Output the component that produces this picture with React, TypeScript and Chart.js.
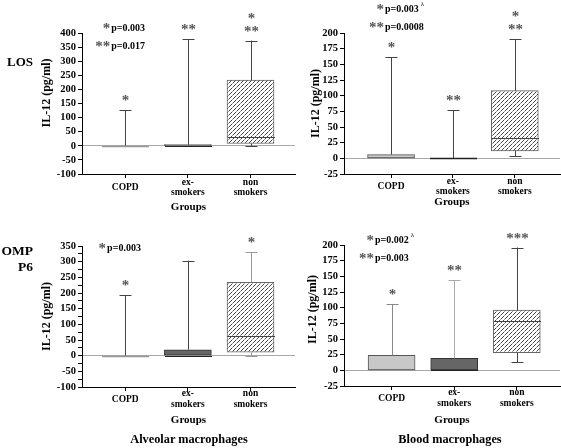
import React, { useEffect, useRef } from "react";
import { Chart, registerables } from "chart.js";

Chart.register(...registerables);

const SERIF = '"Liberation Serif", "Times New Roman", serif';

// ---------- shared categories ----------
const groupPositions = [1, 2, 3];
const groupLabels = [["COPD"], ["ex-", "smokers"], ["non", "smokers"]];

// ---------- Alveolar macrophages, LOS ----------
const alvLosMin = [0, 0, 0];
const alvLosQ1 = [0, 0, 8];
const alvLosMedian = [0, 0, 32];
const alvLosQ3 = [0, 4, 233];
const alvLosMax = [127, 378, 373];
const alvLosStars = [["*"], ["**"], ["**", "*"]];
const alvLosP = [["*", "p=0.003", ""], ["**", "p=0.017", ""]];

// ---------- Blood macrophages, LOS ----------
const bloodLosMin = [0, 0, 3];
const bloodLosQ1 = [0, 0, 12];
const bloodLosMedian = [0, 0, 33];
const bloodLosQ3 = [6, 0, 108];
const bloodLosMax = [161, 77, 190];
const bloodLosStars = [["*"], ["**"], ["**", "*"]];
const bloodLosP = [["*", "p=0.003", "λ"], ["**", "p=0.0008", ""]];

// ---------- Alveolar macrophages, OMP P6 ----------
const alvOmpMin = [0, 0, 0];
const alvOmpQ1 = [0, 0, 11];
const alvOmpMedian = [0, 0, 62];
const alvOmpQ3 = [0, 19, 234];
const alvOmpMax = [193, 303, 330];
const alvOmpStars = [["*"], [], ["*"]];
const alvOmpP = [["*", "p=0.003", ""]];

// ---------- Blood macrophages, OMP P6 ----------
const bloodOmpMin = [0, 0, 13];
const bloodOmpQ1 = [0, 0, 28];
const bloodOmpMedian = [0, 0, 79];
const bloodOmpQ3 = [24, 19, 96];
const bloodOmpMax = [106, 144, 196];
const bloodOmpStars = [["*"], ["**"], ["***"]];
const bloodOmpP = [["*", "p=0.002", "λ"], ["**", "p=0.003", ""]];

// ---------- axis ranges: [min, max, step, label step] ----------
const alvLosY = [-100, 400, 50, 50];
const bloodLosY = [-25, 200, 25, 25];
const alvOmpY = [-100, 350, 25, 50];
const bloodOmpY = [-25, 200, 25, 25];

type Cfg = {
  min: number[]; q1: number[]; median: number[]; q3: number[]; max: number[];
  stars: string[][]; pLines: string[][];
  yRange: number[];
  xMin: number; xMax: number;
  left: number; top: number; width: number; height: number;
  padTop: number; padRight: number; yWidth: number; xHeight: number;
  yTitle: string; yTitlePad: number; xTitlePad: number; xTickPad: number; xTickLH: number;
  pAnchorX: number; pAnchorY: number[];
  whiskerColors: string[];
};

const boxFill = ["#c8c8c8", "#666666"];
const boxBorder = ["#555555", "#333333", "#666666"];
const medianColors = ["#999999", "#222222", "#444444"];

const panels: Cfg[] = [
  {
    min: alvLosMin, q1: alvLosQ1, median: alvLosMedian, q3: alvLosQ3, max: alvLosMax,
    stars: alvLosStars, pLines: alvLosP, yRange: alvLosY,
    xMin: 0.31, xMax: 3.71,
    left: 0, top: 0, width: 300, height: 224,
    padTop: 33, padRight: 5, yWidth: 82, xHeight: 50,
    yTitle: "       IL-12 (pg/ml)", yTitlePad: 40, xTitlePad: 10.4, xTickPad: 5, xTickLH: 1.05,
    pAnchorX: 0.76, pAnchorY: [425, 361],
    whiskerColors: ["#444", "#444", "#444"],
  },
  {
    min: bloodLosMin, q1: bloodLosQ1, median: bloodLosMedian, q3: bloodLosQ3, max: bloodLosMax,
    stars: bloodLosStars, pLines: bloodLosP, yRange: bloodLosY,
    xMin: 0.24, xMax: 3.73,
    left: 300, top: 0, width: 261, height: 224,
    padTop: 33, padRight: 1, yWidth: 44, xHeight: 50,
    yTitle: "IL-12 (pg/ml)", yTitlePad: 8.8, xTitlePad: 15.6, xTickPad: 3.5, xTickLH: 1.1,
    pAnchorX: 0.887, pAnchorY: [241, 212],
    whiskerColors: ["#444", "#444", "#444"],
  },
  {
    min: alvOmpMin, q1: alvOmpQ1, median: alvOmpMedian, q3: alvOmpQ3, max: alvOmpMax,
    stars: alvOmpStars, pLines: alvOmpP, yRange: alvOmpY,
    xMin: 0.31, xMax: 3.71,
    left: 0, top: 224, width: 300, height: 224,
    padTop: 22, padRight: 5, yWidth: 82, xHeight: 61,
    yTitle: "IL-12 (pg/ml)", yTitlePad: 40, xTitlePad: 21.5, xTickPad: 3, xTickLH: 1.12,
    pAnchorX: 0.695, pAnchorY: [349],
    whiskerColors: ["#444", "#444", "#999"],
  },
  {
    min: bloodOmpMin, q1: bloodOmpQ1, median: bloodOmpMedian, q3: bloodOmpQ3, max: bloodOmpMax,
    stars: bloodOmpStars, pLines: bloodOmpP, yRange: bloodOmpY,
    xMin: 0.24, xMax: 3.69,
    left: 300, top: 224, width: 261, height: 224,
    padTop: 21, padRight: 1, yWidth: 44, xHeight: 62,
    yTitle: "    IL-12 (pg/ml)", yTitlePad: 5.3, xTitlePad: 21.5, xTickPad: 3, xTickLH: 1.15,
    pAnchorX: 0.718, pAnchorY: [211, 183],
    whiskerColors: ["#888", "#aaa", "#444"],
  },
];

function makeHatch(): CanvasPattern | string {
  const c = document.createElement("canvas");
  c.width = 4;
  c.height = 4;
  const g = c.getContext("2d");
  if (!g) return "#aaa";
  g.fillStyle = "#fff";
  g.fillRect(0, 0, 4, 4);
  g.fillStyle = "#444";
  g.fillRect(3, 0, 1, 1);
  g.fillRect(2, 1, 1, 1);
  g.fillRect(1, 2, 1, 1);
  g.fillStyle = "#999";
  g.fillRect(0, 3, 1, 1);
  const p = g.createPattern(c, "repeat");
  return p || "#aaa";
}

function drawAsterisks(ctx: CanvasRenderingContext2D, text: string, x: number, cy: number, align: CanvasTextAlign) {
  ctx.font = `bold 15px ${SERIF}`;
  ctx.textAlign = align;
  ctx.textBaseline = "alphabetic";
  ctx.fillStyle = "#555";
  ctx.fillText(text, x, cy + 7);
}

function makeBoxPlugin(cfg: Cfg) {
  return {
    id: "boxWhiskers",
    afterDatasetsDraw(chart: any) {
      const { ctx } = chart;
      const xs = chart.scales.x;
      const ys = chart.scales.y;
      const meta = chart.getDatasetMeta(0);
      ctx.save();
      groupPositions.forEach((gx, i) => {
        const px = Math.round(xs.getPixelForValue(gx)) + 0.5;
        const bar = meta.data[i];
        const bw = bar ? bar.width : 47;
        const capHalf = 6;
        ctx.strokeStyle = cfg.whiskerColors[i];
        ctx.lineWidth = 1;
        // upper whisker
        const yTop = ys.getPixelForValue(cfg.max[i]);
        const yQ3 = ys.getPixelForValue(cfg.q3[i]);
        ctx.beginPath();
        ctx.moveTo(px, yQ3);
        ctx.lineTo(px, yTop);
        ctx.moveTo(px - capHalf, Math.round(yTop) + 0.5);
        ctx.lineTo(px + capHalf, Math.round(yTop) + 0.5);
        ctx.stroke();
        // lower whisker
        if (cfg.min[i] < cfg.q1[i]) {
          const yBot = ys.getPixelForValue(cfg.min[i]);
          const yQ1 = ys.getPixelForValue(cfg.q1[i]);
          ctx.beginPath();
          ctx.moveTo(px, yQ1);
          ctx.lineTo(px, yBot);
          ctx.moveTo(px - capHalf, Math.round(yBot) + 0.5);
          ctx.lineTo(px + capHalf, Math.round(yBot) + 0.5);
          ctx.stroke();
        }
        // median / flat box
        const yMed = Math.round(ys.getPixelForValue(cfg.median[i])) + 0.5;
        ctx.strokeStyle = medianColors[i];
        ctx.lineWidth = cfg.q1[i] === cfg.q3[i] ? 1.5 : 1;
        ctx.beginPath();
        ctx.moveTo(px - bw / 2, yMed);
        ctx.lineTo(px + bw / 2, yMed);
        ctx.stroke();
        // significance stars above whisker
        cfg.stars[i].forEach((s, k) => {
          drawAsterisks(ctx, s, px, yTop - 12 - k * 13, "center");
        });
      });
      // p-value legend
      const ax = xs.getPixelForValue(cfg.pAnchorX);
      cfg.pLines.forEach((line, k) => {
        const cy = ys.getPixelForValue(cfg.pAnchorY[k]);
        drawAsterisks(ctx, line[0], ax, cy, "right");
        ctx.font = `bold 10px ${SERIF}`;
        ctx.textAlign = "left";
        ctx.fillStyle = "#000";
        ctx.fillText(line[1], ax + 1, cy + 5);
        if (line[2]) {
          const w = ctx.measureText(line[1]).width;
          ctx.font = `7px ${SERIF}`;
          ctx.fillText(line[2], ax + 3 + w, cy - 1);
        }
      });
      ctx.restore();
    },
  };
}

function Panel({ cfg }: { cfg: Cfg }) {
  const ref = useRef<HTMLCanvasElement>(null);
  useEffect(() => {
    const canvas = ref.current;
    if (!canvas) return;
    const hatch = makeHatch();
    const [yMin, yMax, yStep, yLabelStep] = cfg.yRange;
    const chart = new Chart(canvas, {
      type: "bar",
      data: {
        datasets: [
          {
            data: groupPositions.map((x, i) => ({ x, y: [cfg.q1[i], cfg.q3[i]] })) as any,
            backgroundColor: [boxFill[0], boxFill[1], hatch] as any,
            borderColor: boxBorder,
            borderWidth: 1,
            borderSkipped: false,
            barThickness: 47,
          },
        ],
      },
      options: {
        animation: false,
        responsive: false,
        maintainAspectRatio: false,
        layout: { padding: { left: 0, top: cfg.padTop, right: cfg.padRight, bottom: 0 } },
        plugins: { legend: { display: false }, tooltip: { enabled: false }, title: { display: false } },
        scales: {
          x: {
            type: "linear",
            min: cfg.xMin,
            max: cfg.xMax,
            offset: false,
            afterBuildTicks: (s: any) => {
              s.ticks = groupPositions.map((v) => ({ value: v }));
            },
            afterFit: (s: any) => {
              s.height = cfg.xHeight;
            },
            ticks: {
              autoSkip: false,
              maxRotation: 0,
              minRotation: 0,
              crossAlign: "center",
              padding: cfg.xTickPad,
              color: "#000",
              font: { family: SERIF, size: 9.5, weight: "bold", lineHeight: cfg.xTickLH },
              callback: (v: any) => {
                const idx = groupPositions.indexOf(Math.round(Number(v)));
                return idx >= 0 ? groupLabels[idx] : "";
              },
            },
            grid: { display: true, drawOnChartArea: false, offset: false, color: "#000", tickColor: "#000", tickLength: 4 },
            border: { display: true, color: "#000", width: 1 },
            title: {
              display: true,
              text: "Groups",
              color: "#000",
              font: { family: SERIF, size: 11, weight: "bold", lineHeight: 1.2 },
              padding: { top: 0, bottom: cfg.xTitlePad },
            },
          },
          y: {
            type: "linear",
            min: yMin,
            max: yMax,
            afterFit: (s: any) => {
              s.width = cfg.yWidth;
            },
            ticks: {
              stepSize: yStep,
              autoSkip: false,
              padding: 2,
              color: "#000",
              font: { family: SERIF, size: 10.5, weight: "bold" },
              callback: (v: any) => (Number(v) % yLabelStep === 0 ? String(v) : ""),
            },
            grid: {
              display: true,
              drawOnChartArea: true,
              color: (c: any) => (c.tick && c.tick.value === 0 ? "#a8a8a8" : "rgba(0,0,0,0)"),
              tickColor: "#000",
              tickLength: 4,
              lineWidth: 1,
            },
            border: { display: true, color: "#000", width: 1 },
            title: {
              display: true,
              text: cfg.yTitle,
              color: "#000",
              font: { family: SERIF, size: 12, weight: "bold", lineHeight: 1.2 },
              padding: { top: cfg.yTitlePad, bottom: 0 },
            },
          },
        },
      } as any,
      plugins: [makeBoxPlugin(cfg)],
    });
    return () => chart.destroy();
  }, [cfg]);
  return (
    <canvas
      ref={ref}
      width={cfg.width}
      height={cfg.height}
      style={{ position: "absolute", left: cfg.left, top: cfg.top, width: cfg.width, height: cfg.height }}
    />
  );
}

const labelStyle: React.CSSProperties = {
  position: "absolute",
  fontFamily: SERIF,
  fontWeight: "bold",
  lineHeight: "16px",
  color: "#000",
  whiteSpace: "nowrap",
};

export default function App() {
  return (
    <div style={{ position: "absolute", left: 0, top: 0, width: 561, height: 448, background: "#fff", overflow: "hidden" }}>
      {panels.map((cfg, i) => (
        <Panel key={i} cfg={cfg} />
      ))}
      <div style={{ ...labelStyle, fontSize: 13, right: 528, top: 54, textAlign: "right" }}>LOS</div>
      <div style={{ ...labelStyle, fontSize: 13.5, right: 528, top: 243, textAlign: "right" }}>
        OMP
        <br />
        P6
      </div>
      <div style={{ ...labelStyle, fontSize: 12.3, left: 89, width: 200, top: 431, textAlign: "center" }}>Alveolar macrophages</div>
      <div style={{ ...labelStyle, fontSize: 12.3, left: 350, width: 200, top: 431, textAlign: "center" }}>Blood macrophages</div>
    </div>
  );
}
